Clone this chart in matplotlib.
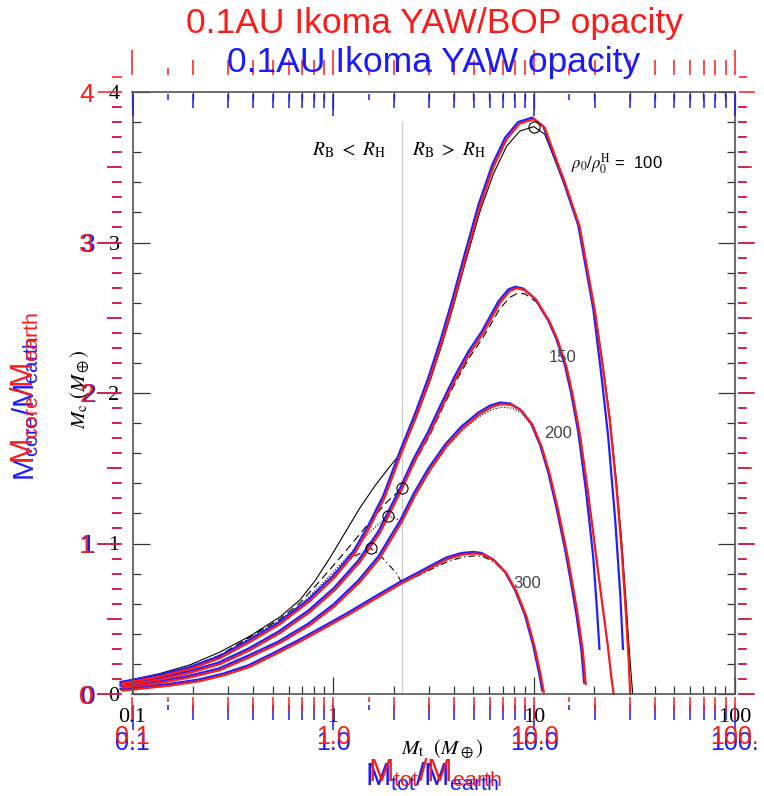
import matplotlib
matplotlib.use("Agg")
import matplotlib.pyplot as plt
from matplotlib.ticker import FixedLocator, NullLocator, NullFormatter, FixedFormatter
from matplotlib.transforms import ScaledTranslation

W, H, DPI = 764, 796, 100
plt.rcParams['mathtext.fontset'] = 'stix'
SANS = 'Liberation Sans'
SERIF = 'Liberation Serif'

# ---------------- curve data: total mass M_t vs core mass M_c ----------------
# rho0/rho0^H = 100 (YAW/BOP opacity)
r100_mt = [0.0887, 0.1005, 0.137, 0.193, 0.273, 0.385, 0.543, 0.766, 1.02, 1.283,
           1.523, 1.809, 2.2, 2.6, 3.04, 3.50, 3.97, 4.50, 5.40, 6.31, 7.32, 8.51,
           10.0, 11.33, 12.97, 14.25, 16.93, 18.55, 20.11, 22.03, 23.88, 25.87, 27.40,
           28.69, 29.69, 30.21]
r100_mc = [0.070, 0.083, 0.116, 0.166, 0.239, 0.346, 0.465, 0.618, 0.777, 0.937,
           1.110, 1.309, 1.61, 1.85, 2.096, 2.349, 2.598, 2.866, 3.244, 3.506, 3.687,
           3.791, 3.82, 3.763, 3.548, 3.402, 3.105, 2.811, 2.551, 2.179, 1.821, 1.355,
           0.957, 0.558, 0.226, 0.0]
# rho0/rho0^H = 150
r150_mt = [0.0887, 0.1005, 0.137, 0.193, 0.273, 0.385, 0.543, 0.766, 1.02, 1.358,
           1.709, 2.2, 2.55, 3.03, 3.52, 4.12, 4.80, 5.59, 6.77, 7.59, 8.22, 9.01,
           10.30, 12.00, 13.15, 14.53, 15.62, 16.93, 18.55, 20.11, 21.79, 23.34, 24.43,
           25.0]
r150_mc = [0.056, 0.066, 0.096, 0.140, 0.199, 0.292, 0.405, 0.545, 0.691, 0.877,
           1.07, 1.362, 1.548, 1.734, 1.920, 2.106, 2.266, 2.397, 2.598, 2.678, 2.696,
           2.684, 2.618, 2.472, 2.352, 2.175, 1.987, 1.732, 1.355, 0.990, 0.625, 0.326,
           0.093, 0.0]
# rho0/rho0^H = 200
r200_mt = [0.0887, 0.1005, 0.137, 0.193, 0.273, 0.385, 0.543, 0.766, 1.02, 1.358,
           1.709, 2.2, 2.55, 3.03, 3.68, 4.43, 5.38, 6.17, 6.92, 7.76, 8.71, 9.87,
           10.95, 12.00, 13.15, 14.53, 15.62, 16.60, 17.52, 18.13]
r200_mc = [0.043, 0.050, 0.073, 0.110, 0.159, 0.246, 0.339, 0.458, 0.585, 0.744,
           0.904, 1.145, 1.316, 1.488, 1.648, 1.767, 1.860, 1.907, 1.927, 1.920, 1.880,
           1.787, 1.641, 1.462, 1.236, 0.957, 0.724, 0.514, 0.292, 0.066]
# rho0/rho0^H = 300
r300_mt = [0.0887, 0.1005, 0.154, 0.217, 0.289, 0.385, 0.512, 0.683, 0.909, 1.211,
           1.613, 2.2, 2.64, 3.15, 3.73, 4.44, 5.08, 5.59, 6.39, 7.30, 8.22, 9.19,
           10.10, 10.82, 11.2]
r300_mc = [0.023, 0.030, 0.056, 0.086, 0.126, 0.181, 0.262, 0.348, 0.439, 0.532,
           0.631, 0.736, 0.791, 0.846, 0.897, 0.927, 0.934, 0.927, 0.884, 0.802, 0.678,
           0.514, 0.312, 0.126, 0.013]

# YAW opacity: the two outer curves stop earlier on the falling side
y100_tail_mt = [22.03, 23.88, 25.87, 27.40, 28.3]
y100_tail_mc = [2.12, 1.70, 1.15, 0.66, 0.29]
y150_tail_mt = [18.55, 20.11, 21.0, 21.6]
y150_tail_mc = [1.33, 0.90, 0.55, 0.29]

# R_B < R_H branches (thin black)
b100_mt = [0.1, 0.137, 0.193, 0.273, 0.385, 0.543, 0.683, 0.811, 0.963, 1.144, 1.358,
           1.613, 1.873, 2.2]
b100_mc = [0.096, 0.136, 0.193, 0.279, 0.385, 0.512, 0.625, 0.751, 0.904, 1.070,
           1.236, 1.382, 1.495, 1.610]
b150_mt = [0.1, 0.137, 0.193, 0.273, 0.385, 0.543, 0.683, 0.859, 1.080, 1.283, 1.523,
           1.830, 2.2]
b150_mc = [0.090, 0.126, 0.179, 0.259, 0.379, 0.498, 0.605, 0.751, 0.904, 1.023,
           1.143, 1.269, 1.367]
b200_mt = [0.1, 0.137, 0.193, 0.273, 0.385, 0.543, 0.683, 0.859, 1.080, 1.283, 1.523,
           1.87, 2.03, 2.2]
b200_mc = [0.086, 0.123, 0.173, 0.252, 0.372, 0.492, 0.591, 0.718, 0.857, 0.970,
           1.076, 1.183, 1.169, 1.145]
b300_mt = [0.1, 0.137, 0.193, 0.273, 0.385, 0.543, 0.683, 0.859, 1.080, 1.283, 1.54,
           1.77, 2.07, 2.2]
b300_mc = [0.083, 0.120, 0.169, 0.246, 0.365, 0.485, 0.578, 0.704, 0.837, 0.917,
           0.968, 0.902, 0.802, 0.736]
# R_B > R_H continuation (thin black)
b100r_mt = [2.2, 2.6, 3.04, 3.50, 3.97, 4.50, 5.40, 6.31, 7.32, 8.51, 10.0, 11.33,
            12.97, 14.25, 16.93, 18.55, 20.11, 22.03, 23.88, 25.87, 27.40, 28.69, 29.69,
            30.5, 31.09]
b100r_mc = [1.61, 1.84, 2.08, 2.33, 2.575, 2.84, 3.21, 3.46, 3.64, 3.74, 3.77, 3.72,
            3.52, 3.38, 3.09, 2.81, 2.56, 2.20, 1.85, 1.40, 1.02, 0.65, 0.35, 0.14, 0.0]
b150r_mt = [2.2, 2.55, 3.03, 3.52, 4.12, 4.80, 5.59, 6.77, 7.59, 8.22, 9.01, 10.30,
            12.00, 13.15, 14.53, 15.62, 16.93, 18.55, 20.11, 21.79, 23.34, 24.43, 25.0]
b150r_mc = [1.367, 1.54, 1.72, 1.905, 2.085, 2.24, 2.37, 2.56, 2.635, 2.66, 2.66,
            2.605, 2.465, 2.345, 2.17, 1.985, 1.735, 1.36, 0.995, 0.63, 0.33, 0.095, 0.0]
b200r_mt = [2.2, 2.55, 3.03, 3.68, 4.43, 5.38, 6.17, 6.92, 7.76, 8.71, 9.87, 10.95,
            12.00, 13.15, 14.53, 15.62, 16.60, 17.52, 18.13]
b200r_mc = [1.145, 1.31, 1.48, 1.64, 1.755, 1.845, 1.89, 1.905, 1.90, 1.865, 1.775,
            1.635, 1.455, 1.232, 0.955, 0.722, 0.512, 0.29, 0.066]
b300r_mt = [2.2, 2.64, 3.15, 3.73, 4.44, 5.08, 5.59, 6.39, 7.30, 8.22, 9.19, 10.10,
            10.82, 11.2]
b300r_mc = [0.736, 0.785, 0.835, 0.88, 0.91, 0.918, 0.913, 0.875, 0.795, 0.672, 0.51,
            0.31, 0.125, 0.013]

# marked transition points
circ_mt = [10.0, 2.2, 1.87, 1.54]
circ_mc = [3.77, 1.367, 1.183, 0.968]

# boundary R_B = R_H
boundary_mt = 2.2
boundary_top = 3.8

# axes ticks
x_major = [0.1, 1, 10, 100]
x_minor = [m * d for d in (0.1, 1, 10) for m in range(2, 10)]
x_half = [0.15, 1.5, 15]
black_xlabels = ['0.1', '1', '10', '100']
over_xlabels = ['0.1', '1.0', '10.0', '100.']
y_major = [0, 1, 2, 3, 4]
y_minor_black = [0.2 * i for i in range(21) if i % 5]
y_minor = [round(0.1 * i, 1) for i in range(0, 42) if i % 5]
y_half = [0.5, 1.5, 2.5, 3.5]
y_labels = ['0', '1', '2', '3', '4']

# --------------------------- geometry helpers ---------------------------------
X0, DEC = 132.5, 200.8      # pixel of x=0.1, pixels per decade
Y0, UNIT = 694.0, 150.5     # pixel of y=0, pixels per unit


def xval(px):
    return 0.1 * 10 ** ((px - X0) / DEC)


def yval(py):
    return (Y0 - py) / UNIT


def rect(x0, y0, x1, y1):
    return [x0 / W, 1 - y1 / H, (x1 - x0) / W, (y1 - y0) / H]


def pt(px):
    return px * 72.0 / DPI


fig = plt.figure(figsize=(W / DPI, H / DPI), dpi=DPI)
fig.patch.set_facecolor('white')


def ftext(px, py, s, **kw):
    return fig.text(px / W, 1 - py / H, s, **kw)


# ------------------------------ main panel ------------------------------------
ax = fig.add_axes(rect(X0, 92, 734.5, Y0))
ax.set_xscale('log')
ax.set_xlim(0.1, 100)
ax.set_ylim(0, 4)
for s in ax.spines.values():
    s.set_color('#555555')
    s.set_linewidth(1.2)
ax.xaxis.set_major_locator(FixedLocator(x_major))
ax.xaxis.set_minor_locator(FixedLocator(x_minor))
ax.xaxis.set_major_formatter(FixedFormatter(black_xlabels))
ax.xaxis.set_minor_formatter(NullFormatter())
ax.yaxis.set_major_locator(FixedLocator(y_major))
ax.yaxis.set_minor_locator(FixedLocator(y_minor_black))
ax.yaxis.set_major_formatter(FixedFormatter(y_labels))
ax.tick_params(which='both', direction='in', top=True, right=True, color='#333333',
               width=0.9)
ax.tick_params(which='major', length=pt(17))
ax.tick_params(which='minor', length=pt(8))
ax.tick_params(axis='x', which='major', pad=pt(14), labelsize=16)
ax.tick_params(axis='y', which='major', pad=pt(13), labelsize=16)
for lab in ax.get_xticklabels() + ax.get_yticklabels():
    lab.set_fontfamily(SERIF)

ax.plot([boundary_mt, boundary_mt], [0, boundary_top], color='#c8c8c8', lw=0.8)

blk = dict(color='black', lw=0.8)
ax.plot(b100_mt, b100_mc, '-', **blk)
ax.plot(b100r_mt, b100r_mc, '-', **blk)
ax.plot(b150_mt, b150_mc, '--', dashes=(7, 4), **blk)
ax.plot(b150r_mt, b150r_mc, '--', dashes=(7, 4), **blk)
ax.plot(b200_mt, b200_mc, ':', **blk)
ax.plot(b200r_mt, b200r_mc, ':', **blk)
ax.plot(b300_mt, b300_mc, '-.', dashes=(6, 3, 1, 3), **blk)
ax.plot(b300r_mt, b300r_mc, '-.', dashes=(6, 3, 1, 3), **blk)

# coloured model curves (YAW in blue underneath, YAW/BOP in red on top)
shift = ax.transData + ScaledTranslation(-1.5 / DPI, 1.5 / DPI, fig.dpi_scale_trans)
yaw = [(r100_mt[:29] + y100_tail_mt, r100_mc[:29] + y100_tail_mc),
       (r150_mt[:28] + y150_tail_mt, r150_mc[:28] + y150_tail_mc),
       (r200_mt, r200_mc), (r300_mt, r300_mc)]
bop = [(r100_mt, r100_mc), (r150_mt, r150_mc), (r200_mt, r200_mc), (r300_mt, r300_mc)]
for mt, mc in yaw:
    ax.plot(mt, mc, color='#1f1fff', lw=1.6, transform=shift, clip_on=False)
for mt, mc in bop:
    ax.plot(mt, mc, color='#ff1a1a', lw=1.6, clip_on=False)

ax.plot(circ_mt, circ_mc, 'o', mfc='none', mec='black', mew=0.8, ms=8, zorder=5)

ftext(349.5, 150, r'$R_{\rm B}\ <\ R_{\rm H}$', fontsize=14, ha='center', va='center')
ftext(449.5, 150, r'$R_{\rm B}\ >\ R_{\rm H}$', fontsize=14, ha='center', va='center')
ftext(617, 164, r'$\rho_0/\rho_0^{\rm H}$ =  100', fontsize=12, ha='center',
      va='center', family=SANS)
ftext(563, 357, '150', fontsize=12, ha='center', va='center', family=SANS, color='#444444')
ftext(558, 434, '200', fontsize=12, ha='center', va='center', family=SANS, color='#444444')
ftext(527, 584, '300', fontsize=12, ha='center', va='center', family=SANS, color='#444444')
ftext(442, 749, r'$M_{\rm t}\ \ (M_\oplus)$', fontsize=15, ha='center', va='center')
ftext(80, 389, r'$M_{\rm c}\ (M_\oplus)$', fontsize=15, ha='center', va='center',
      rotation=90)


# ------------------------- coloured tick overlays -----------------------------
def layer(box, side, color, major, minor, maj_len, min_len, direction,
          labels=None, pad=0, fs=18):
    a = fig.add_axes(rect(*box), facecolor='none')
    a.set_xscale('log')
    a.set_xlim(xval(box[0]), xval(box[2]))
    a.set_ylim(yval(box[3]), yval(box[1]))
    for s in a.spines.values():
        s.set_visible(False)
    a.patch.set_visible(False)
    if side in ('top', 'bottom'):
        a.yaxis.set_major_locator(NullLocator())
        a.yaxis.set_minor_locator(NullLocator())
        axis = a.xaxis
    else:
        a.xaxis.set_major_locator(NullLocator())
        a.xaxis.set_minor_locator(NullLocator())
        axis = a.yaxis
    axis.set_ticks_position(side)
    axis.set_major_locator(FixedLocator(major))
    axis.set_minor_locator(FixedLocator(minor))
    axis.set_minor_formatter(NullFormatter())
    if labels is None:
        axis.set_major_formatter(NullFormatter())
    else:
        axis.set_major_formatter(FixedFormatter(labels))
    name = 'x' if side in ('top', 'bottom') else 'y'
    a.tick_params(axis=name, which='major', direction=direction, length=pt(maj_len),
                  width=1.1, color=color, labelcolor=color, labelsize=fs, pad=pt(pad))
    a.tick_params(axis=name, which='minor', direction=direction, length=pt(min_len),
                  width=1.1, color=color)
    for lab in axis.get_ticklabels():
        lab.set_fontfamily(SANS)
    return a


BLUE, RED = '#1a1aff', '#ff1a1a'
# blue set (drawn first, sits underneath)
bb = (120.5, 94, 737.5, 705)
layer(bb, 'top', BLUE, x_major, x_minor, 22, 14, 'in')
layer(bb, 'top', BLUE, [], x_half, 0, 6, 'in')
layer(bb, 'bottom', BLUE, x_major, x_minor, 25, 15, 'out', labels=over_xlabels, pad=1)
layer(bb, 'bottom', BLUE, [], x_half, 0, 5, 'out')
by = (121, 94, 738, 705)
layer(by, 'left', BLUE, y_major, y_minor, 24, 9, 'out', labels=y_labels, pad=1, fs=19)
layer(by, 'left', BLUE, y_half, [], 14, 0, 'out')
layer(by, 'right', BLUE, y_major, y_minor, 16, 8, 'out')
layer(by, 'right', BLUE, y_half, [], 12, 0, 'out')

# red set
rb = (122, 75, 739, 697)
layer(rb, 'top', RED, x_major, x_minor, 25, 15, 'out')
layer(rb, 'top', RED, [], x_half, 0, 7, 'out')
layer(rb, 'bottom', RED, x_major, x_minor, 23, 15, 'out', labels=over_xlabels, pad=5)
layer(rb, 'bottom', RED, [], x_half, 0, 5, 'out')
layer(rb, 'left', RED, y_major, y_minor, 24, 10, 'out', labels=y_labels, pad=4, fs=19)
layer(rb, 'left', RED, y_half, [], 15, 0, 'out')
layer(rb, 'right', RED, y_major, y_minor, 16, 8, 'out')
layer(rb, 'right', RED, y_half, [], 13, 0, 'out')

# titles and axis names of the coloured sets
ftext(434, 33, '0.1AU Ikoma YAW/BOP opacity', fontsize=25.5, color=RED, family=SANS,
      ha='center', va='baseline')
ftext(434, 72, '0.1AU Ikoma YAW opacity', fontsize=25.5, color=BLUE, family=SANS,
      ha='center', va='baseline')
xname = r'$\mathregular{M_{tot}/M_{earth}}$'
yname = r'$\mathregular{M_{core}/M_{earth}}$'
ftext(432, 777, xname, fontsize=22, color=BLUE, family=SANS, ha='center', va='center')
ftext(435, 773, xname, fontsize=22, color=RED, family=SANS, ha='center', va='center')
ftext(26, 409, yname, fontsize=21, color=BLUE, family=SANS, ha='center', va='center',
      rotation=90)
ftext(25, 388, yname, fontsize=22, color=RED, family=SANS, ha='center', va='center',
      rotation=90)

fig.savefig('out.png', dpi=DPI)
